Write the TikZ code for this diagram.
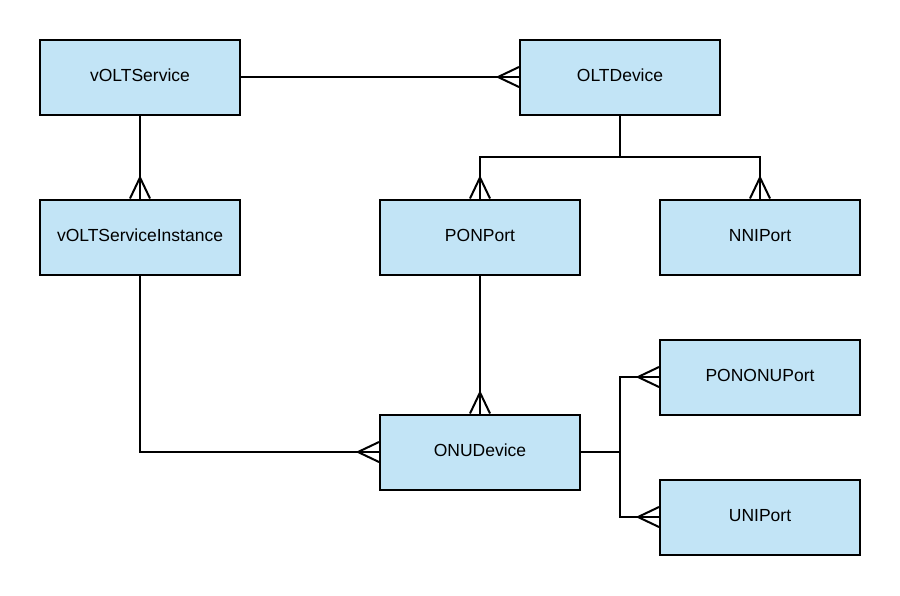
\documentclass[tikz,border=0pt]{standalone}
\usepackage{fontspec}
\setmainfont{Liberation Sans}
\usetikzlibrary{calc}

% crow's foot ends on the west and north side of a node
\newcommand{\crowW}[1]{%
  \draw[link] ($(#1.west)+(-21,0)$) -- ($(#1.west)+(0,-10)$)
              ($(#1.west)+(-21,0)$) -- ($(#1.west)+(0,10)$);}
\newcommand{\crowN}[1]{%
  \draw[link] ($(#1.north)+(0,-21)$) -- ($(#1.north)+(-10,0)$)
              ($(#1.north)+(0,-21)$) -- ($(#1.north)+(10,0)$);}

\begin{document}
\begin{tikzpicture}[x=1pt,y=-1pt,line cap=butt]
  % Styles and colors
  \definecolor{entityfill}{RGB}{194,228,246}
  \tikzset{
    entity/.style={draw=black,fill=entityfill,line width=2pt,
      minimum width=200pt,minimum height=75pt,inner sep=0pt,
      text height=12.5pt,text depth=4pt,
      font=\fontsize{17.5}{21}\selectfont},
    link/.style={draw=black,line width=2pt}
  }
  \useasboundingbox (0,0) rectangle (900,595);

  % Entities
  \node[entity] (vsvc)   at (140,77)  {vOLTService};
  \node[entity] (olt)    at (620,77)  {OLTDevice};
  \node[entity] (vinst)  at (140,237) {vOLTServiceInstance};
  \node[entity] (pon)    at (480,237) {PONPort};
  \node[entity] (nni)    at (760,237) {NNIPort};
  \node[entity] (pononu) at (760,377) {PONONUPort};
  \node[entity] (onu)    at (480,452) {ONUDevice};
  \node[entity] (uni)    at (760,517) {UNIPort};

  % Branch points
  \coordinate (oltfork) at (620,157);
  \coordinate (onufork) at (620,452);

  % Relations
  \draw[link] (vsvc.east) -- (olt.west);
  \crowW{olt}
  \draw[link] (vsvc.south) -- (vinst.north);
  \crowN{vinst}

  \draw[link] (olt.south) -- (oltfork);
  \draw[link] (oltfork) -| (pon.north);
  \draw[link] (oltfork) -| (nni.north);
  \crowN{pon}
  \crowN{nni}

  \draw[link] (pon.south) -- (onu.north);
  \crowN{onu}
  \draw[link] (vinst.south) |- (onu.west);
  \crowW{onu}

  \draw[link] (onu.east) -- (onufork);
  \draw[link] (onufork) |- (pononu.west);
  \draw[link] (onufork) |- (uni.west);
  \crowW{pononu}
  \crowW{uni}
\end{tikzpicture}
\end{document}
